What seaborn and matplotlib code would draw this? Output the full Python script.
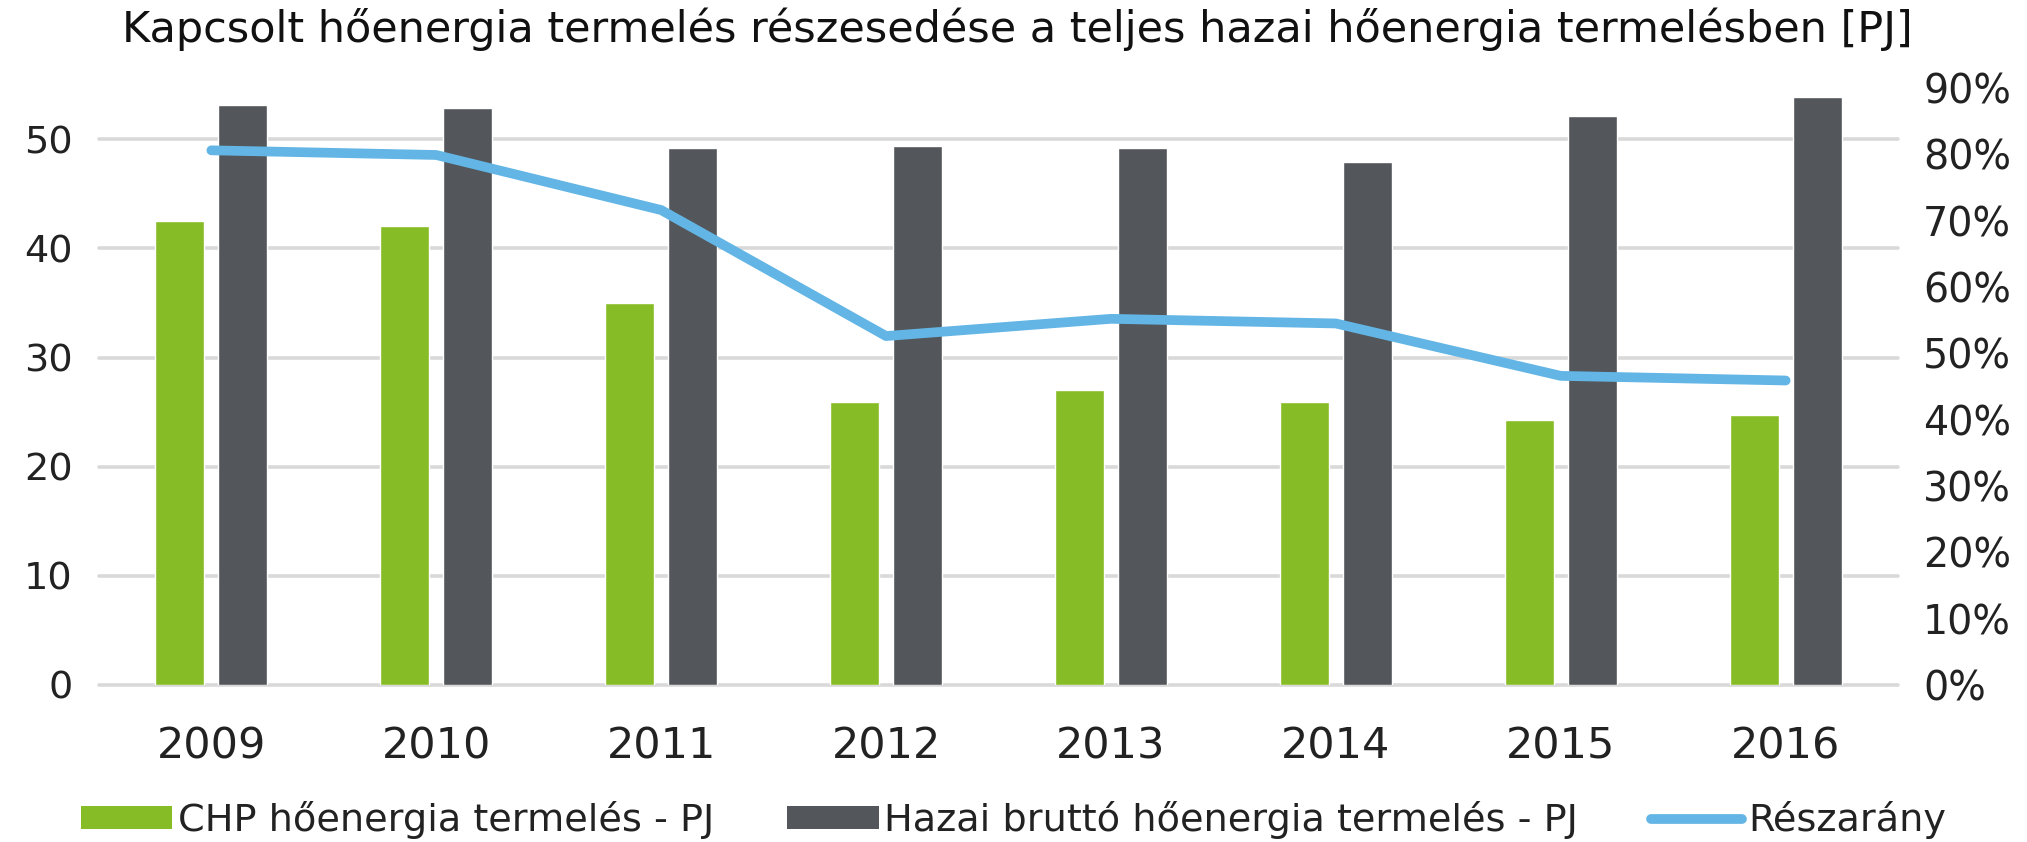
import matplotlib
matplotlib.use("Agg")
import matplotlib.pyplot as plt
import numpy as np
import pandas as pd
import seaborn as sns
from matplotlib.patches import Patch
from matplotlib.lines import Line2D
from matplotlib.ticker import PercentFormatter

# data
years = ["2009", "2010", "2011", "2012", "2013", "2014", "2015", "2016"]
chp_pj = [42.5, 42.1, 35.0, 25.9, 27.0, 25.9, 24.3, 24.7]
hazai_pj = [53.1, 52.9, 49.2, 49.4, 49.2, 47.9, 52.1, 53.9]
reszarany = [0.806, 0.799, 0.716, 0.526, 0.552, 0.545, 0.466, 0.459]

series_names = ["CHP hőenergia termelés - PJ", "Hazai bruttó hőenergia termelés - PJ"]
line_name = "Részarány"
title = "Kapcsolt hőenergia termelés részesedése a teljes hazai hőenergia termelésben [PJ]"

green = "#86BC25"
dark = "#53565A"
blue = "#62B5E5"
grid_col = "#D9D9D9"
text_col = "#222222"

sns.set_theme(style="white")
plt.rcParams["font.family"] = ["DejaVu Sans"]

bars = pd.DataFrame({
    "year": years * 2,
    "value": chp_pj + hazai_pj,
    "series": [series_names[0]] * len(years) + [series_names[1]] * len(years),
})

fig, ax = plt.subplots(figsize=(20.27, 8.42), dpi=100)
fig.subplots_adjust(left=0.0488, right=0.9364, bottom=0.1865, top=0.8955)

sns.barplot(data=bars, x="year", y="value", hue="series", order=years,
            hue_order=series_names, palette=[green, dark], width=0.56, gap=0.22,
            saturation=1, legend=False, ax=ax)

ax.set_ylim(0, 54.7)
ax.set_yticks([0, 10, 20, 30, 40, 50])
ax.set_axisbelow(True)
ax.yaxis.grid(True, color=grid_col, linewidth=2.6)
for gl in ax.get_ygridlines():
    gl.set_clip_on(False)
ax.set_xlabel("")
ax.set_ylabel("")
sns.despine(ax=ax, left=True, bottom=True)
ax.tick_params(axis="y", length=0, pad=19, labelsize=27.5, labelcolor=text_col)
ax.tick_params(axis="x", length=0, pad=29, labelsize=31, labelcolor=text_col)

ax2 = ax.twinx()
sns.lineplot(x=np.arange(len(years)), y=reszarany, color=blue, linewidth=7,
             solid_capstyle="round", ax=ax2)
ax2.set_ylim(0, 0.9)
ax2.set_yticks(np.arange(0, 0.91, 0.1))
ax2.yaxis.set_major_formatter(PercentFormatter(1.0, decimals=0))
ax2.grid(False)
sns.despine(ax=ax2, left=True, bottom=True, right=True)
ax2.tick_params(axis="y", length=0, pad=18, labelsize=28.5, labelcolor=text_col)
ax.set_xlim(-0.5, len(years) - 0.5)

fig.text(0.502, 0.965, title, ha="center", va="center", fontsize=31, color="#111111")

handles = [
    Patch(facecolor=green, edgecolor="none"),
    Patch(facecolor=dark, edgecolor="none"),
    Line2D([0], [0], color=blue, linewidth=7, solid_capstyle="round"),
]
fig.legend(handles, series_names + [line_name], loc="center", bbox_to_anchor=(0.5, 0.026),
           ncol=3, frameon=False, fontsize=27.5, handlelength=2.4, handleheight=0.55,
           handletextpad=0.15, columnspacing=1.9, labelcolor=text_col)

fig.savefig("out.png", dpi=100)
